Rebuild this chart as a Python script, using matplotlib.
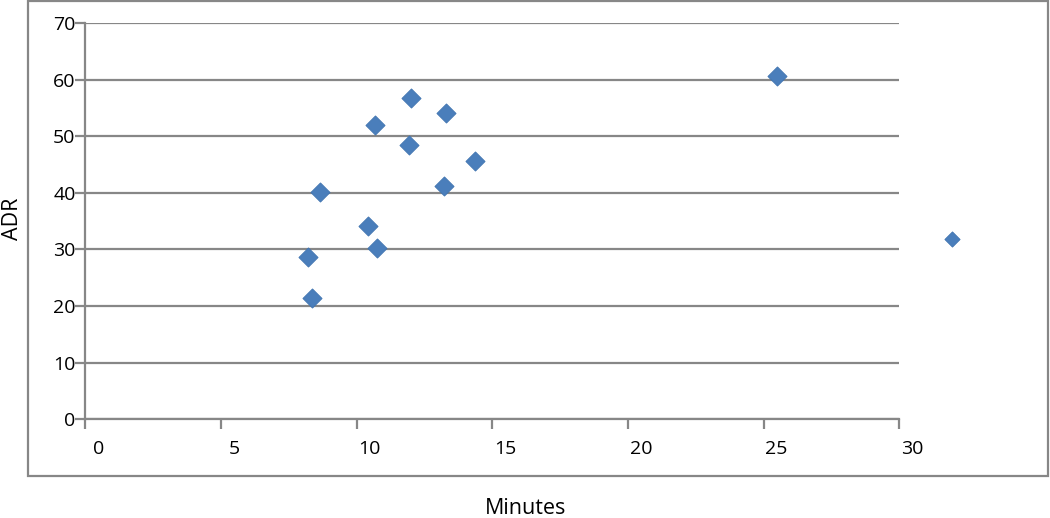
import matplotlib
matplotlib.use("Agg")
import matplotlib.pyplot as plt
import matplotlib.transforms as mtransforms
from matplotlib.patches import Rectangle

plt.rcParams['font.family'] = ['Open Sans', 'DejaVu Sans']

minutes = [11.99, 13.30, 10.67, 11.92, 14.36, 13.23, 8.64, 10.43, 10.74, 8.21, 8.36, 25.50]
adr = [56.7, 54.1, 52.0, 48.4, 45.6, 41.2, 40.2, 34.2, 30.2, 28.7, 21.5, 60.7]
outlier_minutes = [31.94]
outlier_adr = [31.9]

x_ticks = [0, 5, 10, 15, 20, 25, 30]
y_ticks = [0, 10, 20, 30, 40, 50, 60, 70]

grid_color = '#878787'
marker_color = '#4A7EBB'

fig = plt.figure(figsize=(10.5, 5.18), dpi=100)
ax = fig.add_axes([85.3 / 1050, 98.7 / 518, 814 / 1050, 396.3 / 518])

# outer chart border
fig.patches.append(Rectangle((28 / 1050, 42 / 518), 1020 / 1050, 475 / 518,
                             transform=fig.transFigure, fill=False,
                             edgecolor=grid_color, linewidth=1.6))

ax.set_xlim(0, 30)
ax.set_ylim(0, 70)
ax.set_xticks(x_ticks)
ax.set_yticks(y_ticks)
ax.yaxis.grid(True, color=grid_color, linewidth=1.6)
ax.set_axisbelow(True)

for s in ['top', 'right']:
    ax.spines[s].set_visible(False)
for s in ['left', 'bottom']:
    ax.spines[s].set_color(grid_color)
    ax.spines[s].set_linewidth(1.6)

ax.tick_params(axis='both', colors=grid_color, labelcolor='black', labelsize=14,
               length=7, width=1.6)
ax.tick_params(axis='y', pad=0)
ax.tick_params(axis='x', pad=8)

# Excel-like shift of x tick labels to the right of ticks
offset = mtransforms.ScaledTranslation(13 / 100, 0, fig.dpi_scale_trans)
for lbl in ax.get_xticklabels():
    lbl.set_transform(lbl.get_transform() + offset)

ax.scatter(minutes, adr, marker='D', s=95, color=marker_color, edgecolors='#3F73B0',
           linewidths=0.6, zorder=3, clip_on=False)
ax.scatter(outlier_minutes, outlier_adr, marker='D', s=60, color=marker_color,
           edgecolors='#3F73B0', linewidths=0.6, zorder=3, clip_on=False)

fig.text(526 / 1050, 1 - 508 / 518, 'Minutes', ha='center', va='center', fontsize=15.5)
fig.text(12 / 1050, 1 - 219 / 518, 'ADR', ha='center', va='center', fontsize=15.5,
         rotation=90)

fig.savefig('out.png', dpi=100)
